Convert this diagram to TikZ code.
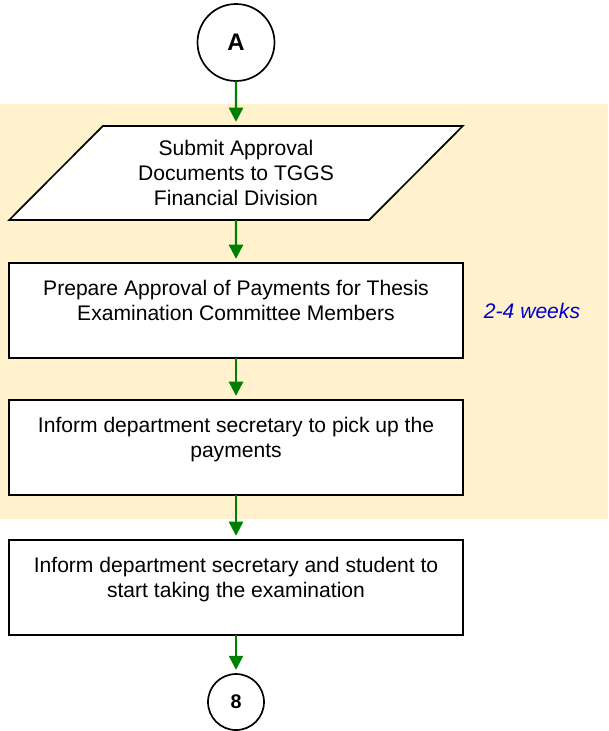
\documentclass[tikz,border=0pt]{standalone}
\usepackage{fontspec}
\setmainfont{Liberation Sans}
\usepackage{xcolor}
\usepackage{tikz}
\usetikzlibrary{arrows.meta,positioning,shapes.geometric}

\definecolor{bandyellow}{HTML}{FFF2CC}
\definecolor{flowgreen}{HTML}{008000}
\definecolor{noteblue}{HTML}{0000CC}
\newcommand{\toptext}[1]{\parbox[c][1.6cm][t]{11cm}{\centering\strut #1}}

\begin{document}
\begin{tikzpicture}
            \tikzstyle{block} = [draw, rectangle, fill=white, line width=1.2pt, outer sep=0pt, minimum width=11.35cm, minimum height=2.375cm, font=\fontsize{15}{17.7}\selectfont]
            \tikzstyle{io} = [draw, trapezium, trapezium left angle=46, trapezium right angle=134, trapezium stretches=true, fill=white, line width=1.2pt, outer sep=0pt, minimum width=11.375cm, minimum height=2.35cm, align=center, font=\fontsize{15}{17.7}\selectfont]
            \tikzstyle{conn} = [draw, circle, fill=white, line width=1.2pt, outer sep=0pt]
            \tikzstyle{flow} = [draw=flowgreen, line width=1.6pt, -{Triangle[width=10pt,length=10pt]}, shorten >=3pt]

            \useasboundingbox (0,0) rectangle (15.2,-18.275);
            % yellow band behind the payment steps
            \fill[bandyellow] (0,-2.6) rectangle (15.2,-12.98);

            \node [conn, minimum size=1.925cm, font=\fontsize{17}{20}\selectfont\bfseries] (A) at (5.9,-1.0625) {A};
            \node [io, below = 1.125cm of A] (submit) {Submit Approval\\Documents to TGGS\\Financial Division};
            \node [block, below = 1.075cm of submit] (prepare) {\toptext{Prepare Approval of Payments for Thesis\\Examination Committee Members}};
            \node [right = 0.4cm of prepare, text=noteblue, font=\fontsize{15}{18}\selectfont\itshape] (weeks) {2-4 weeks};
            \node [block, below = 1.05cm of prepare] (inform) {\toptext{Inform department secretary to pick up the\\payments}};
            \node [block, below = 1.125cm of inform] (start) {\toptext{Inform department secretary and student to\\start taking the examination}};
            \node [conn, minimum size=1.4cm, font=\fontsize{14}{16}\selectfont\bfseries, below = 0.975cm of start] (eight) {8};

            \draw [flow] (A) -- (submit);
            \draw [flow] (submit) -- (prepare);
            \draw [flow] (prepare) -- (inform);
            \draw [flow] (inform) -- (start);
            \draw [flow] (start) -- (eight);
\end{tikzpicture}
\end{document}
